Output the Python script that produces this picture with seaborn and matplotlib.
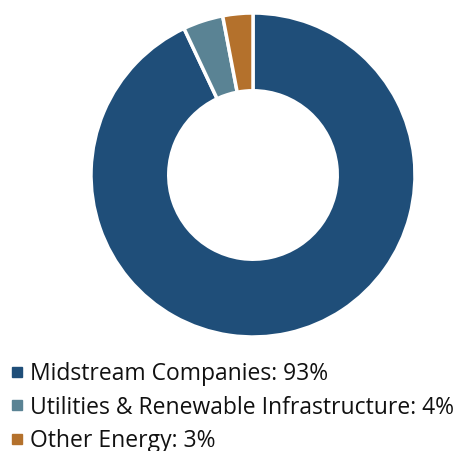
import matplotlib
matplotlib.use("Agg")
import matplotlib.pyplot as plt
import seaborn as sns
from matplotlib.lines import Line2D

categories = ["Midstream Companies", "Utilities & Renewable Infrastructure", "Other Energy"]
values = [93, 4, 3]
colors = ["#1F4E79", "#5A8394", "#B4712C"]

sns.set_theme(style="white")
plt.rcParams["font.family"] = ["Open Sans", "DejaVu Sans"]

fig = plt.figure(figsize=(4.56, 4.51), dpi=100)
ax = fig.add_axes([91/456, 114/451, 324/456, 324/451])
ax.pie(values, colors=colors, startangle=90, counterclock=False,
       wedgeprops=dict(width=0.48, edgecolor="white", linewidth=2.5))
ax.set_aspect("equal")
ax.set_xlim(-1, 1)
ax.set_ylim(-1, 1)
ax.axis("off")

handles = [Line2D([0], [0], marker="s", linestyle="none", markersize=7.2,
                  markerfacecolor=c, markeredgecolor=c) for c in colors]
labels = [f"{c}: {v}%" for c, v in zip(categories, values)]
fig.legend(handles, labels, loc="upper left", bbox_to_anchor=(3/456, 1 - 355/451),
           frameon=False, fontsize=16.5, handlelength=0.6, handletextpad=0.27,
           labelspacing=0.42, borderaxespad=0, borderpad=0.3, labelcolor="#111111")

fig.savefig("out.png", dpi=100)
